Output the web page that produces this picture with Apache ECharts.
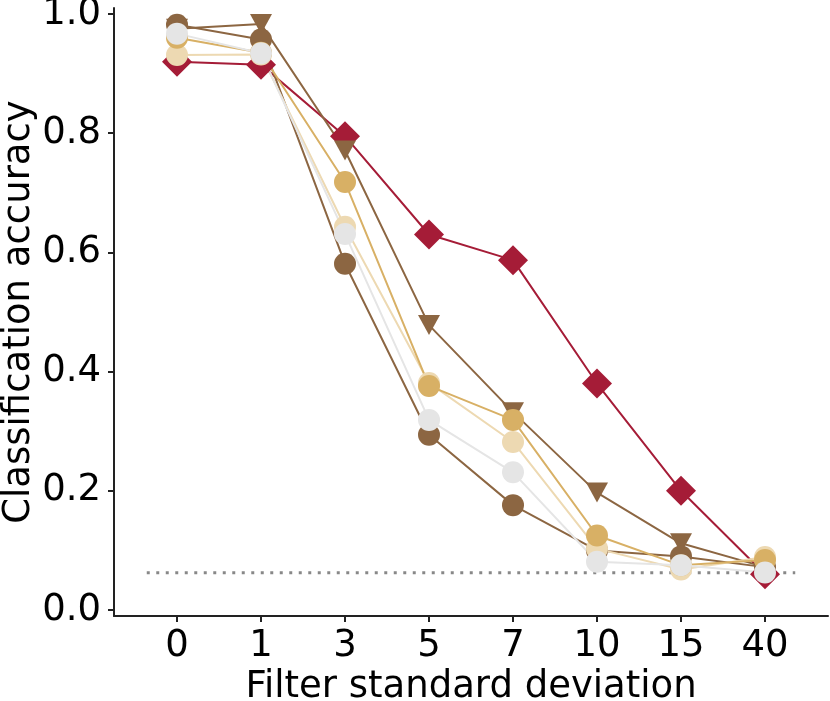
<!DOCTYPE html>
<html>
<head>
<meta charset="utf-8">
<script src="https://cdn.jsdelivr.net/npm/echarts@6/dist/echarts.min.js"></script>
<style>
  html, body { margin: 0; padding: 0; background: #fff; }
  #chart { width: 830px; height: 701px; }
</style>
</head>
<body>
<div id="chart"></div>
<script>
// categories on x (filter sd)
var categories = ['0', '1', '3', '5', '7', '10', '15', '40'];
var yTicks = [0, 0.2, 0.4, 0.6, 0.8, 1.0];
var chanceLevel = 0.0625;

// accuracy per model
var accDiamond = [0.92, 0.915, 0.795, 0.63, 0.587, 0.38, 0.20, 0.06];
var accTriangle = [0.975, 0.983, 0.771, 0.478, 0.332, 0.197, 0.112, 0.072];
var accBrown = [0.982, 0.957, 0.581, 0.294, 0.176, 0.10, 0.09, 0.072];
var accLightGold = [0.931, 0.932, 0.643, 0.381, 0.282, 0.103, 0.068, 0.089];
var accGold = [0.96, 0.935, 0.718, 0.376, 0.319, 0.125, 0.075, 0.084];
var accGray = [0.967, 0.934, 0.631, 0.319, 0.231, 0.081, 0.075, 0.063];

var font = 'DejaVu Sans';

function toPoints(arr) {
  return arr.map(function(v, i) { return [i, v]; });
}

function makeSeries(name, arr, color, symbol, size, rotate) {
  return {
    name: name,
    type: 'line',
    data: toPoints(arr),
    symbol: symbol,
    symbolSize: size,
    symbolRotate: rotate || 0,
    showAllSymbol: true,
    lineStyle: { color: color, width: 2 },
    itemStyle: { color: color, opacity: 1 },
    emphasis: { disabled: true },
    animation: false
  };
}

var chart = echarts.init(document.getElementById('chart'));

var option = {
  animation: false,
  grid: { left: 114, right: 2, top: 8, bottom: 85, containLabel: false, outerBoundsMode: 'none' },
  xAxis: {
    type: 'value',
    min: -0.75,
    max: 7.75,
    name: 'Filter standard deviation',
    nameLocation: 'middle',
    nameGap: 53,
    nameMoveOverlap: false,
    nameTextStyle: { fontFamily: font, fontSize: 37, color: '#000' },
    axisLine: { show: true, onZero: false, lineStyle: { color: '#222', width: 2 } },
    axisTick: { show: true, length: 6, customValues: categories.map(function(c, i) { return i; }), lineStyle: { color: '#222', width: 2 } },
    axisLabel: {
      customValues: categories.map(function(c, i) { return i; }),
      formatter: function(v) { return categories[Math.round(v)]; },
      fontFamily: font, fontSize: 37, color: '#000', margin: 12
    },
    splitLine: { show: false }
  },
  yAxis: {
    type: 'value',
    min: -0.01,
    max: 1.01,
    name: 'Classification accuracy',
    nameLocation: 'middle',
    nameGap: 76,
    nameMoveOverlap: false,
    nameTextStyle: { fontFamily: font, fontSize: 37, color: '#000' },
    axisLine: { show: true, onZero: false, lineStyle: { color: '#222', width: 2 } },
    axisTick: { show: true, length: 6, customValues: yTicks, lineStyle: { color: '#222', width: 2 } },
    axisLabel: {
      customValues: yTicks,
      formatter: function(v) { return v.toFixed(1); },
      fontFamily: font, fontSize: 37, color: '#000', margin: 13
    },
    splitLine: { show: false }
  },
  series: [
    {
      name: 'chance',
      type: 'line',
      data: [[-0.36, chanceLevel], [7.36, chanceLevel]],
      symbol: 'none',
      lineStyle: { color: '#888', width: 3, type: [3, 6.5] },
      z: 1,
      silent: true
    },
    makeSeries('diamond', accDiamond, '#A51C37', 'diamond', 30),
    makeSeries('triangle', accTriangle, '#8C6642', 'triangle', [22, 20], 180),
    makeSeries('brown', accBrown, '#8C6642', 'circle', 22),
    makeSeries('lightgold', accLightGold, '#EDD9B2', 'circle', 22),
    makeSeries('gold', accGold, '#D8B065', 'circle', 22),
    makeSeries('gray', accGray, '#E5E5E5', 'circle', 22)
  ]
};

chart.setOption(option);
</script>
</body>
</html>
